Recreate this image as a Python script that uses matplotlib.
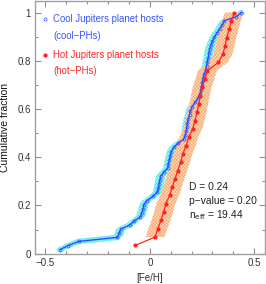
import matplotlib
matplotlib.use("Agg")
import matplotlib.pyplot as plt
from matplotlib.ticker import MultipleLocator
import numpy as np

plt.rcParams['font.family'] = ['Liberation Sans', 'DejaVu Sans']
plt.rcParams['hatch.linewidth'] = 0.4

# [Fe/H] of cool Jupiter hosts (sorted, 59 stars)
feh_cool = [-0.430, -0.391, -0.341, -0.155, -0.147, -0.140, -0.097, -0.075, -0.046, -0.039,
            -0.032, -0.029, -0.014, 0.014, 0.035, 0.041, 0.044, 0.048, 0.052, 0.068,
            0.086, 0.089, 0.094, 0.098, 0.103, 0.114, 0.135, 0.162, 0.170, 0.174,
            0.177, 0.180, 0.184, 0.190, 0.194, 0.203, 0.216, 0.230, 0.239, 0.245,
            0.248, 0.252, 0.256, 0.261, 0.267, 0.272, 0.275, 0.280, 0.282, 0.286,
            0.292, 0.300, 0.309, 0.321, 0.334, 0.346, 0.357, 0.414, 0.438]
# [Fe/H] of hot Jupiter hosts (sorted, 29 stars)
feh_hot = [-0.070, 0.025, 0.038, 0.053, 0.066, 0.076, 0.095, 0.107, 0.120, 0.134,
           0.147, 0.158, 0.174, 0.186, 0.205, 0.216, 0.226, 0.234, 0.242, 0.250,
           0.264, 0.275, 0.328, 0.350, 0.360, 0.368, 0.380, 0.390, 0.405]
err_cool = 0.022
err_hot = 0.045
stats = {"D": "0.24", "p": "0.20", "neff": "19.44"}

xc = np.array(feh_cool)
yc = np.arange(1, len(xc) + 1) / len(xc)
xh = np.array(feh_hot)
yh = np.arange(1, len(xh) + 1) / len(xh)

fig = plt.figure(figsize=(2.66, 2.84), dpi=100)
ax = fig.add_axes([0.1316, 0.1067, 0.8635, 0.889])

# uncertainty bands
ax.plot(xc, yc, color='#7aefef', lw=4.0, solid_capstyle='round', zorder=1)
ax.fill_betweenx(yc, xc - err_cool, xc + err_cool, facecolor='#b4f7f7',
                 hatch='xxxxxxxxxx', edgecolor='#3fe6e6', linewidth=0, zorder=1)
ax.fill_betweenx(yh[1:], xh[1:] - err_hot, xh[1:] + err_hot, facecolor='#fdd9bb',
                 hatch='xxxxxxxxxx', edgecolor='#f6a86a', linewidth=0, zorder=1)

ax.plot(xc, yc, color='#2f4cff', lw=1.0, marker='o', ms=2.2, mfc='none',
        mec='#2f4cff', mew=0.5, zorder=3)
ax.plot(xh, yh, color='#ff2222', lw=0.9, marker='o', ms=2.0, mfc='#ff2222',
        mec='#ff2222', zorder=4)

ax.set_xlim(-0.55, 0.55)
ax.set_ylim(0, 1.047)
ax.xaxis.set_major_locator(MultipleLocator(0.5))
ax.xaxis.set_minor_locator(MultipleLocator(0.1))
ax.yaxis.set_major_locator(MultipleLocator(0.2))
ax.yaxis.set_minor_locator(MultipleLocator(0.1))
ax.tick_params(which='both', direction='in', top=True, right=True,
               color='#909090', labelsize=7, labelcolor='#333333', width=0.8)
ax.tick_params(which='major', length=4, pad=3)
ax.tick_params(which='minor', length=2)
ax.xaxis.set_major_formatter(plt.FuncFormatter(lambda v, p: f"{v:g}".replace('-', '\u2212')))
ax.yaxis.set_major_formatter(plt.FuncFormatter(lambda v, p: f"{v:g}"))
for s in ax.spines.values():
    s.set_color('#a0a0a0')
    s.set_linewidth(1.0)

ax.set_xlabel('[Fe/H]', fontsize=7, color='#333333', labelpad=4)
ax.set_ylabel('Cumulative fraction', fontsize=7.5, color='#111111', labelpad=5)

# legend-like labels
fs = 6.9
ax.plot([-0.5], [0.973], marker='o', ms=2.2, mfc='none', mec='#2f4cff', mew=0.5)
ax.text(-0.464, 0.973, 'Cool Jupiters planet hosts', color='#3a55ff', fontsize=fs, va='center')
ax.text(-0.464, 0.903, '(cool\u2212PHs)', color='#3a55ff', fontsize=fs, va='center')
ax.plot([-0.5], [0.826], marker='o', ms=2.0, mfc='#ff2222', mec='#ff2222')
ax.text(-0.464, 0.826, 'Hot Jupiters planet hosts', color='#ff2a2a', fontsize=fs, va='center')
ax.text(-0.464, 0.756, '(hot\u2212PHs)', color='#ff2a2a', fontsize=fs, va='center')

fs2 = 7.4
ax.text(0.188, 0.275, f"D = {stats['D']}", fontsize=fs2, color='#222222', va='center')
ax.text(0.188, 0.217, f"p\u2212value = {stats['p']}", fontsize=fs2, color='#222222', va='center')
ax.text(0.188, 0.160, "n$_{\\rm eff}$ = " + stats['neff'], fontsize=fs2, color='#222222', va='center')

fig.savefig('out.png', dpi=100)
